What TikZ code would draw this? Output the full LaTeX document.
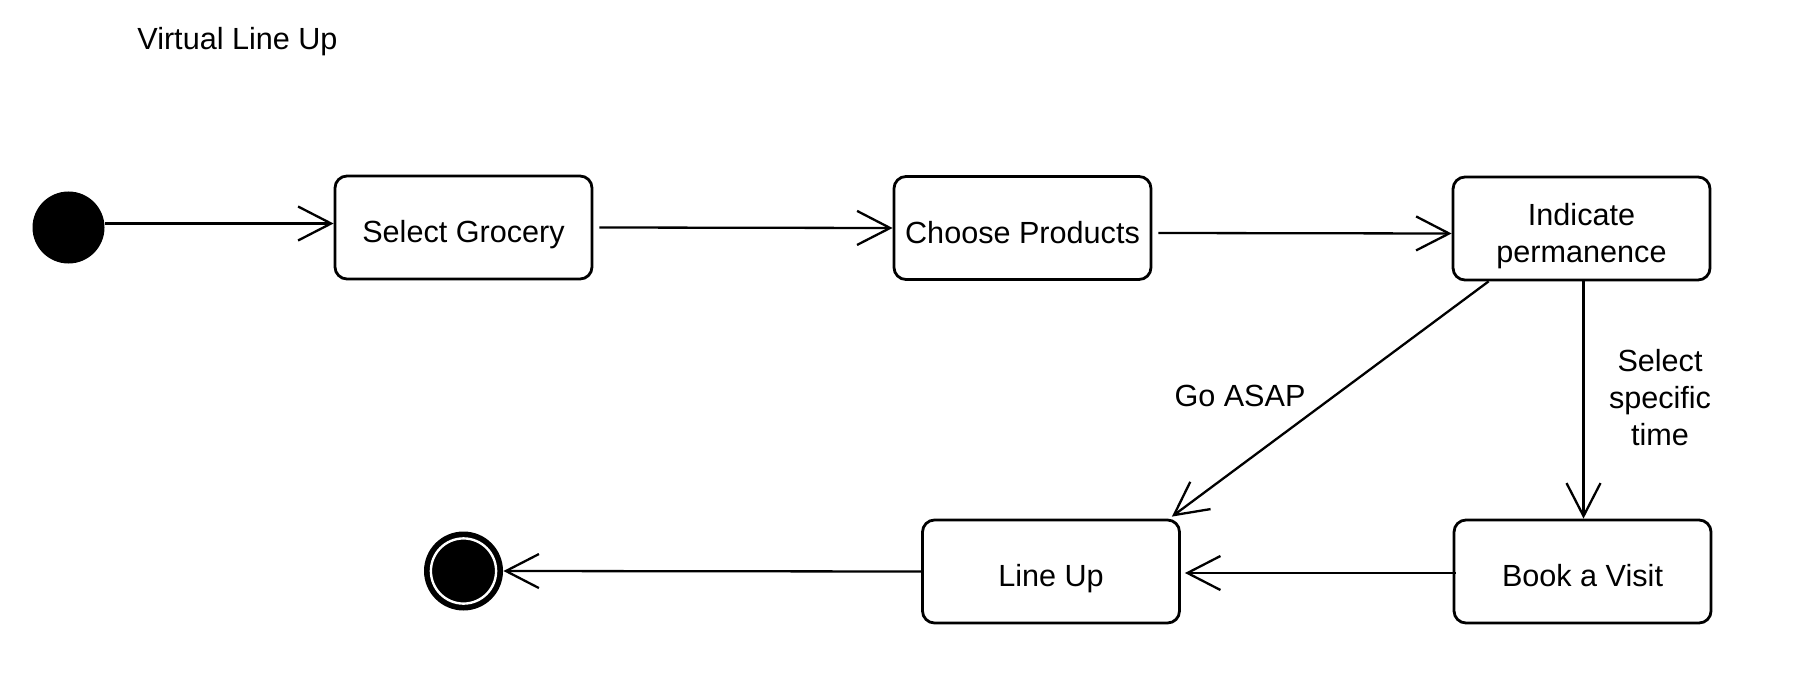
\documentclass[tikz,border=0pt]{standalone}
\usepackage{fontspec}
\setmainfont{Liberation Sans}
\usetikzlibrary{arrows.meta}
\begin{document}
\begin{tikzpicture}[x=0.5pt,y=-0.5pt,
  every node/.style={font=\fontsize{15.3}{18.5}\selectfont},
  box/.style={draw, line width=1.4pt, rounded corners=6pt, minimum width=128.5pt,
    minimum height=51.5pt, inner sep=0pt, text height=18pt, text depth=3pt},
  arr/.style={line width=1.15pt, -{Straight Barb[length=16.5pt,width=17pt,line width=1.15pt]}},
  startdot/.style={circle, fill=black, inner sep=0pt, minimum size=36pt},
  enddot/.style={circle, fill=black, inner sep=0pt, minimum size=39.5pt}]
\useasboundingbox (0,0) rectangle (1807,700);
\node[anchor=base west, inner sep=0pt] (title) at (137,50) {Virtual Line Up};
\node[startdot] (init) at (68.5,227.5) {};
\node[box] (sg) at (463.5,227.5) {Select Grocery};
\node[box] (cp) at (1022.5,228) {Choose Products};
\node[box] (ip) at (1581.5,228.5) {\begin{tabular}{@{}c@{}}Indicate\\permanence\end{tabular}};
\node[box] (lu) at (1051,571.5) {Line Up};
\node[box] (bv) at (1582.5,571.5) {Book a Visit};
\node[enddot] (fin) at (463.5,571) {};
\draw[white, line width=1.2pt] (fin.center) circle[radius=16.3pt];
\draw[arr] ([yshift=2pt]init.east) -- ([yshift=2pt]sg.west);
\draw[arr] ([xshift=3pt]sg.east) -- (cp.west);
\draw[arr] ([xshift=3pt,yshift=-2.5pt]cp.east) -- ([yshift=-2.5pt]ip.west);
\draw[arr] ([xshift=18.5pt]ip.south west) -- ([xshift=-4.5pt,yshift=1pt]lu.north east);
\draw[arr] ([xshift=1pt]ip.south) -- ([xshift=0.5pt]bv.north);
\draw[arr] ([xshift=1.5pt,yshift=-0.75pt]bv.west) -- ([xshift=2pt,yshift=-0.75pt]lu.east);
\draw[arr] (lu.west) -- (fin.east);
\node (goasap) at (1240,396) {Go ASAP};
\node[align=center] (sst) at (1660,398) {Select\\specific\\time};
\end{tikzpicture}
\end{document}
